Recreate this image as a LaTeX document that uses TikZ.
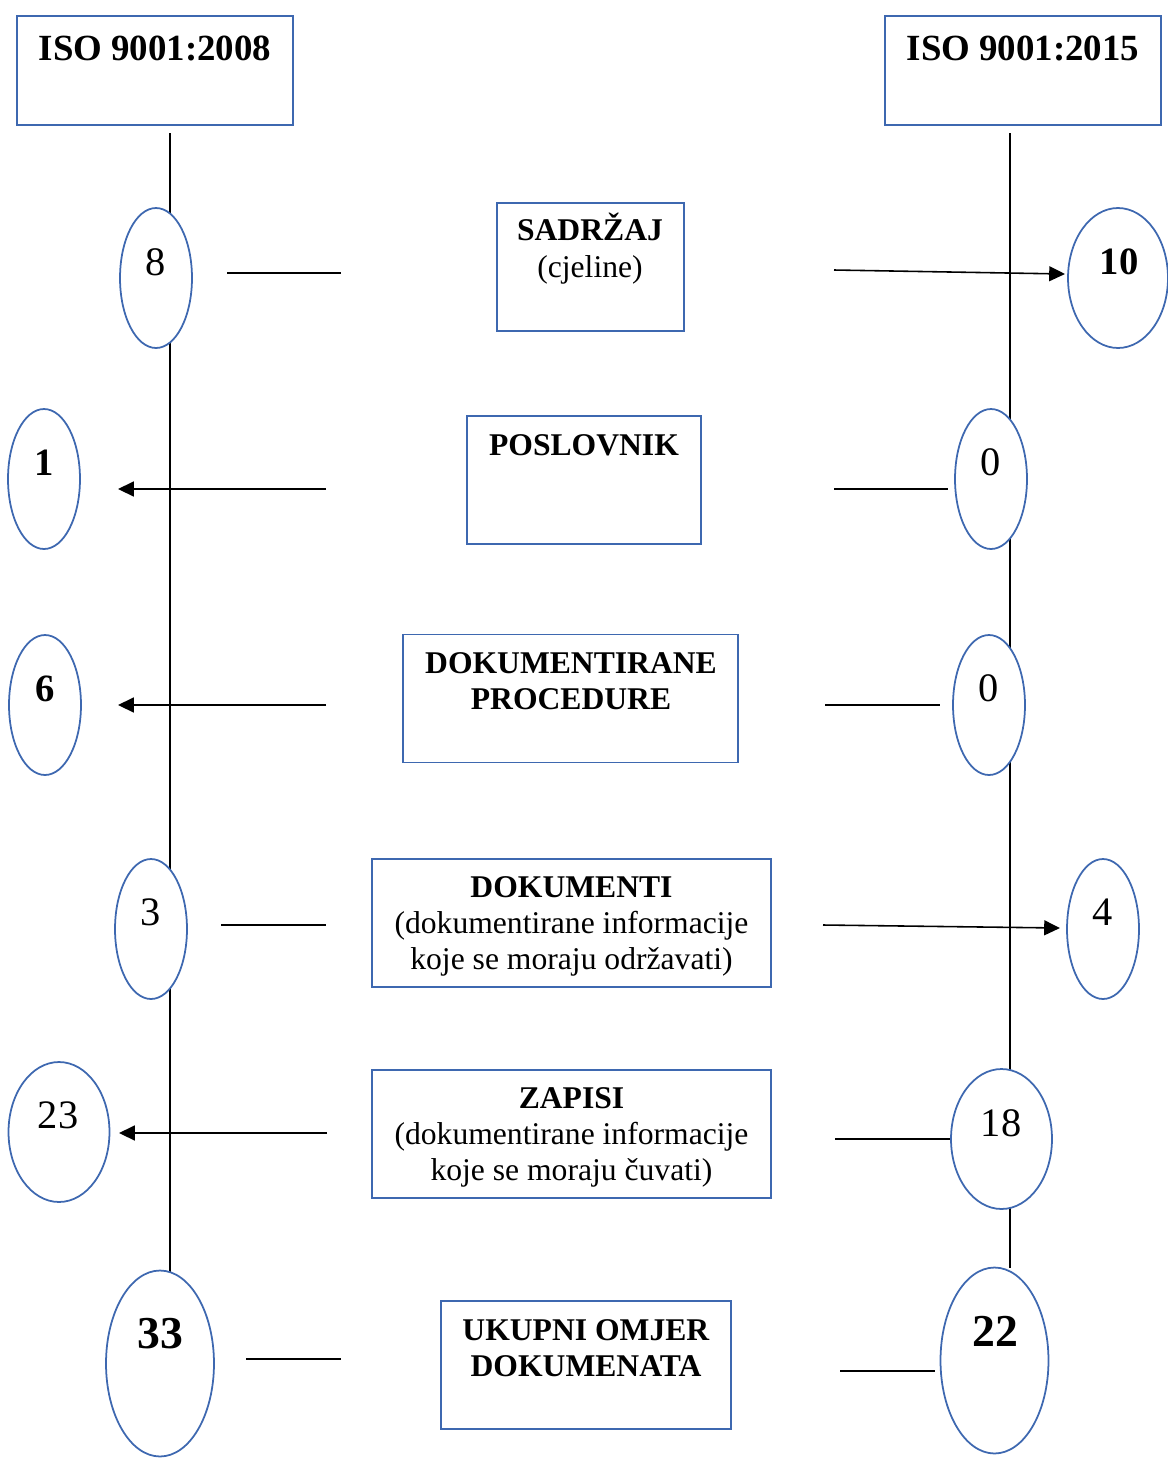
\documentclass[tikz,border=0pt]{standalone}
\usepackage{fontspec}
\setmainfont{Liberation Serif}
\usetikzlibrary{arrows.meta,shapes.geometric}
\definecolor{ovalblue}{RGB}{62,104,176}
\tikzset{
  hdr/.style={draw=ovalblue, line width=1pt, rectangle, minimum width=5.52cm, minimum height=2.18cm},
  box/.style={draw=ovalblue, line width=1pt, rectangle, minimum height=2.56cm},
  oval/.style={draw=ovalblue, line width=1pt, fill=white, ellipse, minimum width=1.44cm, minimum height=2.8cm},
  bigoval/.style={oval, minimum width=2.16cm, minimum height=3.72cm},
  txt/.style={anchor=base, align=center, inner sep=0pt, font=\fontsize{18}{20.5}\selectfont},
  num/.style={font=\fontsize{23}{26}\selectfont},
  bnum/.style={font=\fontsize{22}{26}\selectfont\bfseries},
}
\begin{document}
\begin{tikzpicture}[x=0.02cm, y=-0.02cm, >={Triangle[length=9pt,width=8.5pt]}, line width=0.9pt]
\useasboundingbox (0,0) rectangle (1168,1461);

% the two standards
\node[hdr] (old) at (155,70.5) {};
\node[hdr] (new) at (1023,70.5) {};
\node[txt, font=\fontsize{21}{24}\selectfont\bfseries] (oldname) at (155,60.5) {ISO 9001:2008};
\node[txt, font=\fontsize{21}{24}\selectfont\bfseries] (newname) at (1023,60.5) {ISO 9001:2015};

\coordinate (oldtop) at (170,133);
\coordinate (oldbot) at (170,1272);
\coordinate (newtop) at (1010,133);
\coordinate (newbot) at (1010,1268);
\draw (oldtop) -- (oldbot);
\draw (newtop) -- (newbot);

% counts, left side
\node[oval] (o8) at (156,278) {};
\node[oval] (o1) at (44,479) {};
\node[oval] (o6) at (45,705) {};
\node[oval] (o3) at (151,929) {};
\node[oval, minimum width=2.02cm] (o23) at (59,1132) {};
\node[bigoval] (o33) at (160,1363.5) {};
\node[num] (t8) at (156,262) {8};
\node[bnum] (t1) at (44,463) {1};
\node[bnum] (t6) at (45,689) {6};
\node[num] (t3) at (151,912) {3};
\node[num] (t23) at (58,1115) {23};
\node[bnum, font=\fontsize{26}{30}\selectfont\bfseries] (t33) at (160,1334) {33};

% counts, right side
\node[oval, minimum width=2cm] (n10) at (1118,278) {};
\node[oval] (n0a) at (991,479) {};
\node[oval] (n0b) at (989,705) {};
\node[oval] (n4) at (1103,929) {};
\node[oval, minimum width=2.02cm] (n18) at (1001.5,1139) {};
\node[bigoval] (n22) at (994.5,1360.5) {};
\node[bnum] (u10) at (1119,262) {10};
\node[num] (u0a) at (991,462) {0};
\node[num] (u0b) at (989,688) {0};
\node[num] (u4) at (1103,912) {4};
\node[num] (u18) at (1001,1123) {18};
\node[bnum, font=\fontsize{26}{30}\selectfont\bfseries] (u22) at (995,1331) {22};

% categories (text anchored on the baseline of its last line)
\node[box, minimum width=3.74cm] (sadrzaj) at (590.5,267) {};
\node[box, minimum width=4.68cm] (poslovnik) at (584,480) {};
\node[box, minimum width=6.70cm] (procedure) at (570.5,698.5) {};
\node[box, minimum width=7.98cm] (dokumenti) at (571.5,923) {};
\node[box, minimum width=7.98cm] (zapisi) at (571.5,1134) {};
\node[box, minimum width=5.80cm] (ukupno) at (586,1365) {};
\node[txt] (sadrzajt) at (590,277) {\textbf{SADRŽAJ}\\(cjeline)};
\node[txt] (poslovnikt) at (584,455.5) {\textbf{POSLOVNIK}};
\node[txt] (proceduret) at (571,709.5) {\textbf{DOKUMENTIRANE}\\\textbf{PROCEDURE}};
\node[txt] (dokumentit) at (571.5,969.5) {\textbf{DOKUMENTI}\\(dokumentirane informacije\\koje se moraju održavati)};
\node[txt] (zapisit) at (571.5,1180.5) {\textbf{ZAPISI}\\(dokumentirane informacije\\koje se moraju čuvati)};
\node[txt] (ukupnot) at (586,1376.5) {\textbf{UKUPNI OMJER}\\\textbf{DOKUMENATA}};

% connectors
\coordinate (a1) at (227,273);   \coordinate (b1) at (341,273);
\coordinate (c1) at (834,270);   \coordinate (d1) at (1065,274);
\coordinate (a2) at (326,489);   \coordinate (b2) at (118,489);
\coordinate (c2) at (834,489);   \coordinate (d2) at (948,489);
\coordinate (a3) at (326,705);   \coordinate (b3) at (118,705);
\coordinate (c3) at (825,705);   \coordinate (d3) at (940,705);
\coordinate (a4) at (221,925);   \coordinate (b4) at (326,925);
\coordinate (c4) at (823,925);   \coordinate (d4) at (1060,928);
\coordinate (a5) at (327,1133);  \coordinate (b5) at (119,1133);
\coordinate (c5) at (835,1139);
\coordinate (a6) at (246,1359);  \coordinate (b6) at (341,1359);
\coordinate (c6) at (840,1371);  \coordinate (d6) at (935,1371);

\draw (a1) -- (b1);
\draw[->] (c1) -- (d1);
\draw[->] (a2) -- (b2);
\draw (c2) -- (d2);
\draw[->] (a3) -- (b3);
\draw (c3) -- (d3);
\draw (a4) -- (b4);
\draw[->] (c4) -- (d4);
\draw[->] (a5) -- (b5);
\draw (c5) -- (n18.west);
\draw (a6) -- (b6);
\draw (c6) -- (d6);
\end{tikzpicture}
\end{document}
